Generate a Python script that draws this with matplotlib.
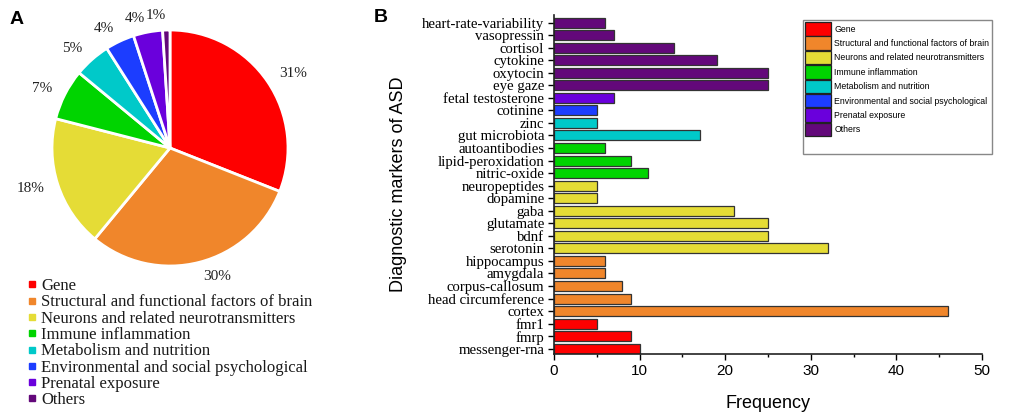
import matplotlib
matplotlib.use("Agg")
import matplotlib.pyplot as plt
from matplotlib.lines import Line2D
from matplotlib.patches import Patch, Rectangle

# categories and colours
groups = ['Gene', 'Structural and functional factors of brain',
          'Neurons and related neurotransmitters', 'Immune inflammation',
          'Metabolism and nutrition', 'Environmental and social psychological',
          'Prenatal exposure', 'Others']
group_colors = ['#fe0000', '#f0862b', '#e5dc36', '#00d400', '#00c9c9',
                '#1c3dff', '#6a00dc', '#63087a']

# pie shares (%)
pie_share = [31, 30, 18, 7, 5, 4, 4, 1]

# bar chart, listed bottom to top
markers = ['messenger-rna', 'fmrp', 'fmr1', 'cortex', 'head circumference',
           'corpus-callosum', 'amygdala', 'hippocampus', 'serotonin', 'bdnf',
           'glutamate', 'gaba', 'dopamine', 'neuropeptides', 'nitric-oxide',
           'lipid-peroxidation', 'autoantibodies', 'gut microbiota', 'zinc',
           'cotinine', 'fetal testosterone', 'eye gaze', 'oxytocin', 'cytokine',
           'cortisol', 'vasopressin', 'heart-rate-variability']
freq = [10, 9, 5, 46, 9, 8, 6, 6, 32, 25, 25, 21, 5, 5, 11, 9, 6, 17, 5, 5,
        7, 25, 25, 19, 14, 7, 6]
marker_group = [0, 0, 0, 1, 1, 1, 1, 1, 2, 2, 2, 2, 2, 2, 3, 3, 3, 4, 4, 5,
                6, 7, 7, 7, 7, 7, 7]

serif = 'Liberation Serif'
sans = 'Liberation Sans'

fig = plt.figure(figsize=(10.21, 4.16), dpi=100)

# ---- panel A: pie
W, H = 1021, 416
cx, cy, r = 170, 148, 118
ax1 = fig.add_axes([(cx - r) / W, 1 - (cy + r) / H, 2 * r / W, 2 * r / H])
wedges, texts = ax1.pie(pie_share, colors=group_colors, startangle=90,
                        counterclock=False,
                        labels=[f'{p}%' for p in pie_share], labeldistance=1.12,
                        wedgeprops=dict(edgecolor='white', linewidth=2),
                        textprops=dict(family=serif, fontsize=11, color='#222222'))
ax1.set_xlim(-1, 1)
ax1.set_ylim(-1, 1)

handles = [Line2D([], [], marker='s', linestyle='none', markersize=4.5,
                  markerfacecolor=c, markeredgecolor=c) for c in group_colors]
fig.legend(handles, groups, loc='upper left', bbox_to_anchor=(27 / W, 1 - 278 / H),
           frameon=False, prop=dict(family=serif, size=12), labelcolor='#1a1a1a',
           handlelength=0.55, handletextpad=0.3, labelspacing=0.02,
           borderpad=0, borderaxespad=0)

fig.text(10 / W, 1 - 20 / H, 'A', family=sans, weight='bold', fontsize=14, va='center')
fig.text(374 / W, 1 - 18 / H, 'B', family=sans, weight='bold', fontsize=14, va='center')

# ---- panel B: horizontal bars
ax2 = fig.add_axes([554 / W, 1 - 354 / H, 428 / W, 339 / H])
ypos = list(range(len(markers)))
ax2.barh(ypos, freq, height=0.8, color=[group_colors[g] for g in marker_group],
         edgecolor='#333333', linewidth=0.9)
ax2.set_ylim(-0.42, len(markers) - 0.4)
ax2.set_xlim(0, 50)
ax2.set_yticks(ypos)
ax2.set_yticklabels(markers, family=serif, fontsize=10.6)
ax2.set_xticks([0, 10, 20, 30, 40, 50])
ax2.set_xticks([5, 15, 25, 35, 45], minor=True)
ax2.tick_params(axis='y', length=4, width=1, pad=3)
ax2.tick_params(axis='x', which='major', length=4, width=1, labelsize=11)
ax2.tick_params(axis='x', which='minor', length=2.5, width=1)
for lab in ax2.get_xticklabels():
    lab.set_family(sans)
for s in ['top', 'right']:
    ax2.spines[s].set_visible(False)
for s in ['left', 'bottom']:
    ax2.spines[s].set_linewidth(1.2)
    ax2.spines[s].set_color('#222222')

ax2.set_xlabel('Frequency', family=sans, fontsize=13)
ax2.set_ylabel('Diagnostic markers of ASD', family=sans, fontsize=13)
ax2.xaxis.set_label_coords(0.5, -(395 - 354) / 339)
ax2.yaxis.set_label_coords(-(554 - 407) / 428, 0.5)

# legend box
x0 = (803 - 554) / 428
y0 = (354 - 154) / 339
ax2.add_patch(Rectangle((x0, y0), (992 - 803) / 428, (154 - 20) / 339,
                        transform=ax2.transAxes, clip_on=False,
                        facecolor='white', edgecolor='#888888', linewidth=1, zorder=4))
leg_handles = [Patch(facecolor=c, edgecolor='#222222', linewidth=0.9) for c in group_colors]
leg = ax2.legend(leg_handles, groups, loc='upper left',
                 bbox_to_anchor=((805 - 554) / 428, (354 - 22) / 339),
                 frameon=False, prop=dict(family=sans, size=6.3),
                 handlelength=3.0, handleheight=2.0, handletextpad=0.35,
                 labelspacing=0.1, borderpad=0, borderaxespad=0)
leg.set_zorder(5)

fig.savefig('out.png', dpi=100)
